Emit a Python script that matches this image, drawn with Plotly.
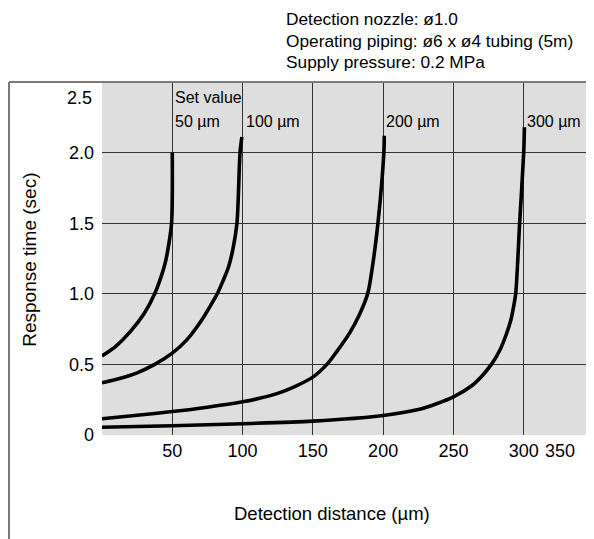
import plotly.graph_objects as go

# ---- data ----
x_50 = [0, 10, 20, 30, 37.5, 42, 45, 47.5, 49.5, 50, 50]
y_50 = [0.56, 0.63, 0.73, 0.86, 1.0, 1.12, 1.22, 1.35, 1.5, 1.7, 2.0]

x_100 = [0, 12.5, 25, 37.5, 50, 60, 70, 78, 82, 86, 90, 93.2, 96, 98.2, 99.5]
y_100 = [0.37, 0.40, 0.44, 0.50, 0.58, 0.67, 0.80, 0.93, 1.0, 1.09, 1.19, 1.32, 1.5, 2.0, 2.11]

x_200 = [0, 25, 50, 75, 100, 112, 125, 137.5, 150, 160, 168, 176, 183, 189, 192.5, 196.3, 200.5, 200.8]
y_200 = [0.115, 0.14, 0.166, 0.197, 0.235, 0.26, 0.295, 0.345, 0.41, 0.50, 0.605, 0.72, 0.85, 1.0, 1.2, 1.5, 2.0, 2.12]

x_300 = [0, 50, 100, 150, 200, 225, 237.5, 250, 262.5, 270, 277, 283, 287.5, 291, 293, 294.3, 297.1, 300, 300.5]
y_300 = [0.055, 0.066, 0.08, 0.098, 0.138, 0.18, 0.22, 0.27, 0.345, 0.415, 0.5, 0.60, 0.71, 0.82, 0.92, 1.0, 1.5, 2.0, 2.18]

series = [
    ("50 µm", x_50, y_50),
    ("100 µm", x_100, y_100),
    ("200 µm", x_200, y_200),
    ("300 µm", x_300, y_300),
]
set_values = [50, 100, 200, 300]

x_tickvals = [50, 100, 150, 200, 250, 300]
x_ticktext = ["50", "100", "150", "200", "250", "300"]
x_edge_label = "350"
y_tickvals = [0, 0.5, 1.0, 1.5, 2.0]
y_ticktext = ["0", "0.5", "1.0", "1.5", "2.0"]
y_edge_label = "2.5"

conditions = [
    "Detection nozzle: ø1.0",
    "Operating piping: ø6 x ø4 tubing (5m)",
    "Supply pressure: 0.2 MPa",
]

FONT = "Liberation Sans, Arial, Helvetica, sans-serif"

# page offset (browser body margin) is 8px; plot area in page px: x 102..594, y 82..435.5
PL, PT, PW, PH = 102.0, 82.0, 492.0, 353.5


def px(xp):
    return (xp - PL) / PW


def py(yp):
    return (PT + PH - yp) / PH


fig = go.Figure()
for name, xs, ys in series:
    fig.add_trace(go.Scatter(x=xs, y=ys, mode="lines", name=name,
                             line=dict(color="black", width=3.6, shape="spline", smoothing=0.8),
                             showlegend=False, hoverinfo="skip"))

annotations = []
for i, (name, xs, ys) in enumerate(series):
    annotations.append(dict(x=set_values[i], y=2.22, xref="x", yref="y", text=name,
                            showarrow=False, xanchor="left", yanchor="middle", xshift=1,
                            font=dict(size=16, color="black", family=FONT)))
annotations.append(dict(x=set_values[0], y=2.39, xref="x", yref="y", text="Set value",
                        showarrow=False, xanchor="left", yanchor="middle", xshift=1,
                        font=dict(size=16, color="black", family=FONT)))
for j, t in enumerate(conditions):
    annotations.append(dict(x=px(284), y=py(19 + j * 21.5), xref="paper", yref="paper",
                            text=t, showarrow=False, xanchor="left", yanchor="middle",
                            font=dict(size=17.3, color="black", family=FONT)))
annotations.append(dict(x=350, y=py(452), xref="x", yref="paper", text=x_edge_label,
                        showarrow=False, xanchor="right", yanchor="middle", xshift=-17,
                        font=dict(size=18, color="black", family=FONT)))
annotations.append(dict(x=0, y=py(98), xref="paper", yref="paper", text=y_edge_label,
                        showarrow=False, xanchor="right", yanchor="middle", xshift=-8,
                        font=dict(size=18, color="black", family=FONT)))
annotations.append(dict(x=px(30), y=py(260), xref="paper", yref="paper",
                        text="Response time (sec)", textangle=-90, showarrow=False,
                        xanchor="center", yanchor="middle",
                        font=dict(size=19, color="black", family=FONT)))
annotations.append(dict(x=px(332), y=py(514), xref="paper", yref="paper",
                        text="Detection distance (µm)", showarrow=False,
                        xanchor="center", yanchor="middle",
                        font=dict(size=18.5, color="black", family=FONT)))

shapes = [
    dict(type="line", xref="paper", yref="paper", x0=px(9), x1=1.0, y0=1.0, y1=1.0,
         line=dict(color="#7a7a7a", width=2)),
    dict(type="line", xref="paper", yref="paper", x0=px(9), x1=px(9),
         y0=1.0, y1=py(545), line=dict(color="#7a7a7a", width=2)),
]

fig.update_layout(
    width=586, height=531,
    margin=dict(l=94, r=0, t=74, b=103.5, pad=0),
    paper_bgcolor="white", plot_bgcolor="#dedede",
    font=dict(family=FONT, size=18, color="black"),
    annotations=annotations, shapes=shapes,
    xaxis=dict(range=[0, 350], tickvals=x_tickvals, ticktext=x_ticktext,
               showgrid=True, gridcolor="#333333", gridwidth=1, zeroline=False,
               showline=False, ticks="", ticklabelstandoff=3, fixedrange=True),
    yaxis=dict(range=[0, 2.5], tickvals=y_tickvals, ticktext=y_ticktext,
               showgrid=True, gridcolor="#333333", gridwidth=1, zeroline=False,
               showline=False, ticks="", ticklabelstandoff=7, fixedrange=True),
)

fig.write_html("out.html")
